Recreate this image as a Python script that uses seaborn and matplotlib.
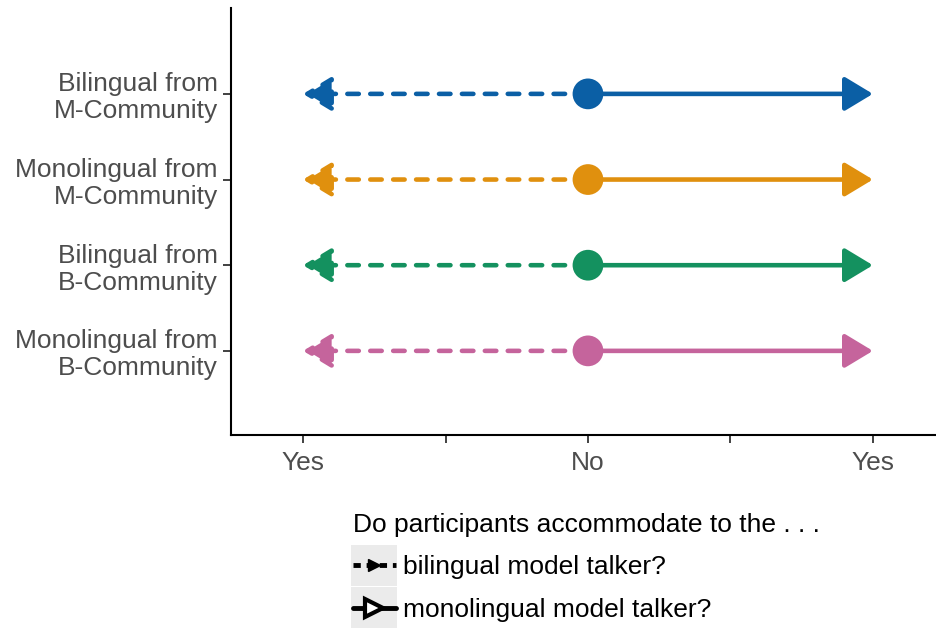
import pandas as pd
import matplotlib.pyplot as plt
import seaborn as sns
from matplotlib.lines import Line2D
from matplotlib.patches import Rectangle
from matplotlib.legend_handler import HandlerLine2D

# data
groups = ["Bilingual from\nM-Community", "Monolingual from\nM-Community",
          "Bilingual from\nB-Community", "Monolingual from\nB-Community"]
ypos = [4, 3, 2, 1]
start = [0, 0, 0, 0]
bilingual_end = [-1, -1, -1, -1]     # dashed arrow
monolingual_end = [1, 1, 1, 1]       # solid arrow
colors = ["#0B5FA5", "#E0900E", "#14915F", "#C5649C"]
xticks = [-1, -0.5, 0, 0.5, 1]
xticklabels = ["Yes", "", "No", "", "Yes"]

df = pd.DataFrame({"group": groups, "y": ypos, "start": start,
                   "bil": bilingual_end, "mono": monolingual_end})

sns.set_style("ticks")
plt.rcParams['font.family'] = ['Liberation Sans', 'DejaVu Sans']

fig = plt.figure(figsize=(9.37, 6.32), dpi=100)
ax = fig.add_axes([0.2465, 0.312, 0.7535, 0.675])

for i, row in df.iterrows():
    c = colors[i]
    ax.annotate("", xy=(row["bil"], row["y"]), xytext=(row["start"], row["y"]),
                arrowprops=dict(arrowstyle="-|>,head_length=0.58,head_width=0.35",
                                color=c, lw=3.3, linestyle=(0, (2.5, 2.5)),
                                shrinkA=0, shrinkB=0, mutation_scale=30))
    ax.annotate("", xy=(row["mono"], row["y"]), xytext=(row["start"], row["y"]),
                arrowprops=dict(arrowstyle="-|>,head_length=0.58,head_width=0.35",
                                color=c, lw=3.3, shrinkA=0, shrinkB=0,
                                mutation_scale=30))

sns.scatterplot(data=df, x="start", y="y", hue="group", palette=colors,
                s=490, edgecolor="none", legend=False, zorder=5, ax=ax)

ax.set_xlim(-1.253, 1.225)
ax.set_ylim(0.02, 5.0)
ax.set_xticks(xticks)
ax.set_xticklabels(xticklabels)
ax.set_yticks(ypos)
ax.set_yticklabels(groups, ha="right", linespacing=1.15)
ax.set_xlabel("")
ax.set_ylabel("")
ax.tick_params(axis="both", labelsize=19, labelcolor="#4d4d4d", color="#333333",
               length=6, width=1.3)
ax.tick_params(axis="x", pad=6)
for s in ["left", "bottom"]:
    ax.spines[s].set_linewidth(1.5)
    ax.spines[s].set_color("black")
sns.despine(ax=ax)


class KeyHandler(HandlerLine2D):
    def create_artists(self, legend, orig_handle, xdescent, ydescent,
                       width, height, fontsize, trans):
        bg = Rectangle((-xdescent - 1, -ydescent - 8), width + 2, height + 16,
                       facecolor="#ebebeb", edgecolor="none", transform=trans)
        arts = super().create_artists(legend, orig_handle, xdescent, ydescent,
                                      width, height, fontsize, trans)
        return [bg] + arts


handles = [Line2D([], [], color="black", lw=3.5, linestyle=(0, (1.5, 1.2)),
                  marker=">", markersize=8),
           Line2D([], [], color="black", lw=3.5, linestyle="-",
                  marker=">", markersize=13, markerfacecolor="white",
                  markeredgewidth=3)]
labels = ["bilingual model talker?", "monolingual model talker?"]
leg = fig.legend(handles, labels, title="Do participants accommodate to the . . .",
                 loc="upper left", bbox_to_anchor=(0.365, 0.205), frameon=False,
                 fontsize=19, title_fontsize=19, handlelength=1.65,
                 handletextpad=0.25, labelspacing=0.7, borderaxespad=0,
                 labelcolor="black",
                 handler_map={Line2D: KeyHandler(numpoints=1, marker_pad=0)})
leg.get_title().set_color("black")
leg._legend_box.align = "left"

fig.savefig("out.png", dpi=100)
